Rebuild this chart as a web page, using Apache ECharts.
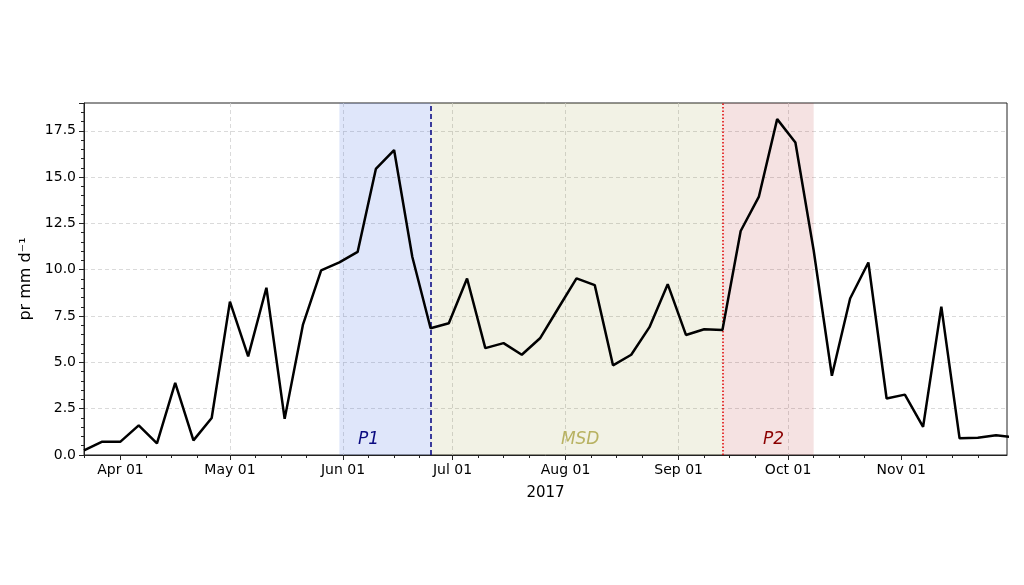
<!DOCTYPE html>
<html>
<head>
<meta charset="UTF-8">
<title>pr 2017</title>
<script src="https://cdn.jsdelivr.net/npm/echarts@6/dist/echarts.min.js"></script>
<style>
  html, body { margin: 0; padding: 0; background: #fff; }
  #main { width: 1024px; height: 585px; }
</style>
</head>
<body>
<div id="main"></div>
<script type="text/javascript">
// pentad dates and precipitation (mm/day)
var dates = ['2017-03-22', '2017-03-27', '2017-04-01', '2017-04-06', '2017-04-11', '2017-04-16', '2017-04-21', '2017-04-26',
	'2017-05-01', '2017-05-06', '2017-05-11', '2017-05-16', '2017-05-21', '2017-05-26', '2017-05-31',
	'2017-06-05', '2017-06-10', '2017-06-15', '2017-06-20', '2017-06-25', '2017-06-30',
	'2017-07-05', '2017-07-10', '2017-07-15', '2017-07-20', '2017-07-25', '2017-07-30',
	'2017-08-04', '2017-08-09', '2017-08-14', '2017-08-19', '2017-08-24', '2017-08-29',
	'2017-09-03', '2017-09-08', '2017-09-13', '2017-09-18', '2017-09-23', '2017-09-28',
	'2017-10-03', '2017-10-08', '2017-10-13', '2017-10-18', '2017-10-23', '2017-10-28',
	'2017-11-02', '2017-11-07', '2017-11-12', '2017-11-17', '2017-11-22', '2017-11-27', '2017-12-02'];
var pr = [0.25, 0.72, 0.72, 1.6, 0.63, 3.89, 0.79, 2.0,
	8.28, 5.32, 9.03, 1.95, 7.02, 9.96, 10.4,
	10.96, 15.44, 16.46, 10.69, 6.84, 7.11,
	9.53, 5.77, 6.04, 5.41, 6.30, 7.92,
	9.53, 9.17, 4.84, 5.41, 6.90, 9.22,
	6.48, 6.79, 6.75, 12.09, 13.95, 18.13,
	16.87, 11.05, 4.28, 8.45, 10.39, 3.05,
	3.26, 1.52, 8.01, 0.90, 0.93, 1.06, 0.95];

// periods
var periodNames = ['P1', 'MSD', 'P2'];
var periodStart = ['2017-05-31', '2017-06-25', '2017-09-13'];
var periodEnd = ['2017-06-25', '2017-09-13', '2017-10-08'];
var labelDates = ['2017-06-08', '2017-08-05', '2017-09-27'];
var labelY = 0.85;

// axis ticks
var xMin = '2017-03-22', xMax = '2017-11-30';
var majorTicks = ['2017-04-01', '2017-05-01', '2017-06-01', '2017-07-01', '2017-08-01', '2017-09-01', '2017-10-01', '2017-11-01'];
var minorTicks = ['2017-03-22', '2017-04-08', '2017-04-15', '2017-04-22', '2017-05-08', '2017-05-15', '2017-05-22',
	'2017-06-08', '2017-06-15', '2017-06-22', '2017-07-08', '2017-07-15', '2017-07-22',
	'2017-08-08', '2017-08-15', '2017-08-22', '2017-09-08', '2017-09-15', '2017-09-22',
	'2017-10-08', '2017-10-15', '2017-10-22', '2017-11-08', '2017-11-15', '2017-11-22'];
var monthNames = ['Jan', 'Feb', 'Mar', 'Apr', 'May', 'Jun', 'Jul', 'Aug', 'Sep', 'Oct', 'Nov', 'Dec'];

function ts(s) {
	var p = s.split('-');
	return new Date(+p[0], +p[1] - 1, +p[2]).getTime();
}

var bandColors = ['rgba(65,105,225,0.17)', 'rgba(128,128,0,0.10)', 'rgba(178,34,34,0.13)'];
var labelColors = ['#0a0a80', '#b8b262', '#8b0000'];

var chart = echarts.init(document.getElementById('main'), null, { renderer: 'canvas' });

var areas = [];
for (var i = 0; i < periodNames.length; i++) {
	areas.push([{ xAxis: ts(periodStart[i]), itemStyle: { color: bandColors[i] } }, { xAxis: ts(periodEnd[i]) }]);
}

var labelData = [];
for (var j = 0; j < periodNames.length; j++) {
	labelData.push({
		name: periodNames[j],
		value: [ts(labelDates[j]), labelY],
		label: { color: labelColors[j] }
	});
}

var font = 'DejaVu Sans';
var gridLine = { show: true, showMinLine: false, showMaxLine: false, lineStyle: { color: '#d0d0d0', type: [4, 3], width: 0.8 } };

var option = {
	animation: false,
	backgroundColor: '#fff',
	grid: {
		left: 84, right: 17, top: 103, bottom: 130,
		show: true, borderColor: '#222', borderWidth: 1, backgroundColor: 'transparent'
	},
	xAxis: [{
		type: 'value',
		min: ts(xMin), max: ts(xMax),
		name: '2017',
		nameLocation: 'middle',
		nameGap: 31,
		nameTextStyle: { fontFamily: font, fontSize: 15, color: '#000' },
		axisLine: { show: true, lineStyle: { color: '#222', width: 1 } },
		axisTick: { show: true, length: 5, customValues: majorTicks.map(ts), lineStyle: { color: '#222' } },
		axisLabel: {
			customValues: majorTicks.map(ts),
			margin: 8,
			fontFamily: font, fontSize: 14, color: '#000',
			formatter: function (v) { return monthNames[new Date(v).getMonth()] + ' 01'; }
		},
		splitLine: gridLine
	}, {
		type: 'value',
		gridIndex: 0,
		position: 'bottom',
		min: ts(xMin), max: ts(xMax),
		axisLine: { show: false },
		axisTick: { show: true, length: 3, customValues: minorTicks.map(ts), lineStyle: { color: '#222' } },
		axisLabel: { show: false },
		splitLine: { show: false }
	}],
	yAxis: {
		type: 'value',
		min: 0, max: 19, interval: 2.5,
		name: 'pr mm d\u207B\u00B9',
		nameLocation: 'middle',
		nameGap: 48,
		nameTextStyle: { fontFamily: font, fontSize: 16, color: '#000' },
		axisLine: { show: true, lineStyle: { color: '#222' } },
		axisTick: { show: true, length: 5, lineStyle: { color: '#222' } },
		minorTick: { show: true, splitNumber: 5, length: 3, lineStyle: { color: '#222' } },
		axisLabel: {
			showMaxLabel: false,
			margin: 8,
			fontFamily: font, fontSize: 14, color: '#000',
			formatter: function (v) { return v.toFixed(1); }
		},
		splitLine: gridLine
	},
	series: [{
		name: 'pr',
		type: 'line',
		xAxisIndex: 0,
		data: dates.map(function (d, k) { return [ts(d), pr[k]]; }),
		symbol: 'none',
		clip: true,
		lineStyle: { color: '#000', width: 2.5 },
		z: 5,
		markArea: { silent: true, data: areas, z: 1 },
		markLine: {
			silent: true,
			symbol: 'none',
			label: { show: false },
			data: [
				{ xAxis: ts(periodStart[1]), lineStyle: { color: '#000080', type: [5, 3], width: 1.5 } },
				{ xAxis: ts(periodStart[2]), lineStyle: { color: '#e00000', type: [1.5, 2], width: 1.5 } }
			]
		}
	}, {
		name: 'labels',
		type: 'scatter',
		xAxisIndex: 0,
		symbolSize: 0,
		itemStyle: { opacity: 1 },
		data: labelData,
		label: {
			show: true,
			position: 'inside',
			formatter: '{b}',
			fontFamily: font, fontSize: 17, fontStyle: 'italic'
		},
		z: 6
	}]
};

chart.setOption(option, true);
</script>
</body>
</html>
